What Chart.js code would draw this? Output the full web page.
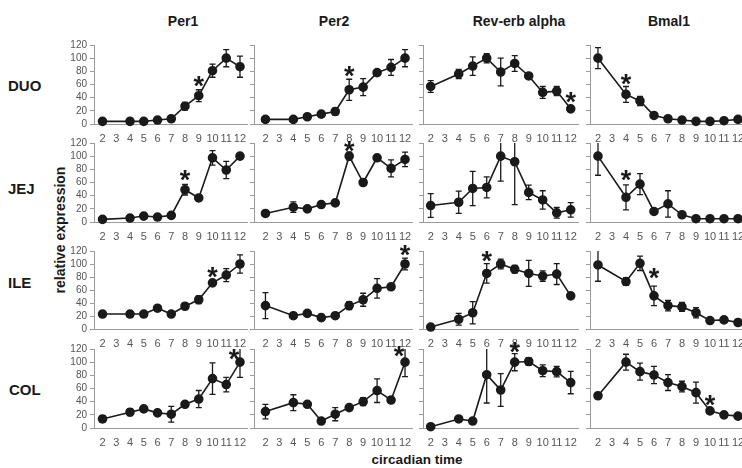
<!DOCTYPE html>
<html lang="en">
<head>
<meta charset="UTF-8">
<title>Clock gene expression along the gut</title>
<script src="https://cdn.jsdelivr.net/npm/chart.js"></script>
<style>
  body { margin: 0; width: 742px; height: 468px; overflow: hidden; background: #fff; position: relative;
         font-family: "Liberation Sans", Arial, sans-serif; }
  canvas { position: absolute; }
  .lbl { position: absolute; font-weight: bold; color: #1a1a1a; white-space: nowrap; line-height: 1.15; }
  .ttl { font-size: 14px; transform: translateX(-50%); }
  .row { font-size: 15px; }
</style>
</head>
<body>
<div class="lbl ttl" style="left:183px; top:13px;">Per1</div>
<div class="lbl ttl" style="left:334px; top:13px;">Per2</div>
<div class="lbl ttl" style="left:519px; top:13px;">Rev-erb alpha</div>
<div class="lbl ttl" style="left:669px; top:13px;">Bmal1</div>
<div class="lbl row" style="left:8px; top:77px;">DUO</div>
<div class="lbl row" style="left:8px; top:180px;">JEJ</div>
<div class="lbl row" style="left:8px; top:274px;">ILE</div>
<div class="lbl row" style="left:9px; top:381px;">COL</div>
<div class="lbl" style="left:60px; top:230px; font-size:14px; transform:translate(-50%,-50%) rotate(-90deg);">relative expression</div>
<div class="lbl" style="left:417px; top:452px; font-size:13.5px; transform:translateX(-50%);">circadian time</div>

<script>
// sampling times (CT) and the tick labels of the time axis
const hours = [2, 4, 5, 6, 7, 8, 9, 10, 11, 12];
const tickHours = [2, 3, 4, 5, 6, 7, 8, 9, 10, 11, 12];

// DUO
const duoPer1 = [4, 4, 4, 6, 8, 27, 43, 81, 100, 87];
const duoPer1Err = [2, 1, 1, 2, 2, 6, 9, 10, 13, 16];
const duoPer2 = [7, 7, 11, 15, 19, 52, 56, 78, 86, 100];
const duoPer2Err = [1, 1, 2, 2, 5, 16, 13, 2, 12, 13];
const duoRev = [57, 76, 88, 100, 79, 92, 73, 48, 50, 23];
const duoRevErr = [9, 7, 14, 7, 21, 12, 2, 9, 7, 2];
const duoBmal = [100, 45, 35, 13, 8, 6, 4, 4, 5, 7];
const duoBmalErr = [16, 12, 7, 2, 1, 1, 1, 1, 1, 1];

// JEJ
const jejPer1 = [4, 6, 9, 7.5, 10, 49, 36.5, 97.5, 79, 100];
const jejPer1Err = [1, 1, 2, 2, 2, 8, 3, 11, 13, 2];
const jejPer2 = [13, 22.5, 20, 26.5, 29, 100, 60, 97.5, 81.5, 95];
const jejPer2Err = [3, 8, 3, 4, 2, 6, 3, 2, 13, 11];
const jejRev = [25, 30, 51, 52.5, 100, 91.5, 45, 33.5, 14, 18.5];
const jejRevErr = [18, 17, 26, 16, 38, 65, 11, 14, 8, 11];
const jejBmal = [100, 37.5, 57.5, 16, 27.5, 11, 5, 5, 5, 5];
const jejBmalErr = [29, 19, 16, 3, 20, 2, 1, 1, 1, 1];

// ILE
const ilePer1 = [23, 23, 23, 32, 23, 35, 45, 71, 83, 100];
const ilePer1Err = [4, 4, 3, 4, 2, 2, 6, 2, 10, 14];
const ilePer2 = [36, 20.5, 24, 17.5, 20.5, 36, 45, 62.5, 65, 100];
const ilePer2Err = [20, 2, 2, 2, 2, 6, 10, 15, 2, 9];
const ileRev = [3, 15, 25, 85.5, 100, 92, 85.5, 81.5, 84.5, 51];
const ileRevErr = [1, 9, 17, 15, 7.5, 6, 20, 8, 16, 1];
const ileBmal = [98.5, 73, 101, 51, 36, 34, 25, 13, 14, 10];
const ileBmalErr = [25, 6, 11, 15, 8, 7, 8, 1, 1, 1];

// COL
const colPer1 = [13.7, 24, 29, 23, 21, 36, 44, 75, 66, 100];
const colPer1Err = [5, 5, 2, 2, 12, 2, 13, 24, 11, 23];
const colPer2 = [25, 38.5, 36, 10.6, 21, 31, 40, 56.7, 42.5, 100];
const colPer2Err = [11, 12, 2, 3, 10, 2, 6, 18, 4, 22];
const colRev = [2, 13.7, 10.6, 81, 57.7, 100, 101, 87, 85.6, 69];
const colRevErr = [1, 2, 2, 43, 25, 13, 6, 9, 8, 17];
const colBmal = [49, 100, 85.6, 80.5, 69, 63, 53.7, 26, 20, 18];
const colBmalErr = [4, 12, 13, 13, 12, 8, 16, 2, 2, 2];

// significance marks: [time, level]
const duoPer1Star = [9, 64], duoPer2Star = [8, 79], duoRevStar = [12, 41], duoBmalStar = [4, 68];
const jejPer1Star = [8, 70], jejPer2Star = [8, 115], jejBmalStar = [4, 70];
const ilePer1Star = [10, 87], ilePer2Star = [12, 121], ileRevStar = [6, 112], ileBmalStar = [6, 85];
const colPer1Star = [11.56, 112], colPer2Star = [11.57, 116], colRevStar = [8, 122], colBmalStar = [10, 42];

// plot area geometry of each column / row (pixels on the page)
const cols = [
  { L: 94, R: 247, min: 1.38, max: 12.51 },
  { L: 254, R: 412, min: 1.18, max: 12.5 },
  { L: 423, R: 578, min: 1.45, max: 12.52 },
  { L: 590, R: 745, min: 1.43, max: 12.5 }
];
const rows = [
  { T: 45, B: 124 }, { T: 143, B: 222 }, { T: 251, B: 329 }, { T: 349, B: 428 }
];

const panels = [
  [duoPer1, duoPer1Err, duoPer1Star], [duoPer2, duoPer2Err, duoPer2Star], [duoRev, duoRevErr, duoRevStar], [duoBmal, duoBmalErr, duoBmalStar],
  [jejPer1, jejPer1Err, jejPer1Star], [jejPer2, jejPer2Err, jejPer2Star], [jejRev, jejRevErr, null], [jejBmal, jejBmalErr, jejBmalStar],
  [ilePer1, ilePer1Err, ilePer1Star], [ilePer2, ilePer2Err, ilePer2Star], [ileRev, ileRevErr, ileRevStar], [ileBmal, ileBmalErr, ileBmalStar],
  [colPer1, colPer1Err, colPer1Star], [colPer2, colPer2Err, colPer2Star], [colRev, colRevErr, colRevStar], [colBmal, colBmalErr, colBmalStar]
];

const INK = '#1a1a1a';
const AXIS = '#9a9a9a';
Chart.defaults.font.family = '"Liberation Sans", Arial, sans-serif';

// draws the error bars and the asterisk through the chart scales
const errorBars = {
  id: 'errorBars',
  afterDatasetsDraw(chart, args, opts) {
    const { ctx, chartArea } = chart;
    const xs = chart.scales.x, ys = chart.scales.y;
    const pts = chart.data.datasets[0].data;
    ctx.save();
    ctx.strokeStyle = INK;
    ctx.lineWidth = 1.3;
    pts.forEach((p, i) => {
      const e = opts.errors[i];
      if (!e || e < 2.5) return;
      const px = xs.getPixelForValue(p.x);
      let top = ys.getPixelForValue(p.y + e);
      const bot = ys.getPixelForValue(Math.max(p.y - e, 0));
      const clipped = top < chartArea.top;
      top = Math.max(top, chartArea.top);
      ctx.beginPath();
      ctx.moveTo(px, top); ctx.lineTo(px, bot);
      if (!clipped) { ctx.moveTo(px - 3, top); ctx.lineTo(px + 3, top); }
      ctx.moveTo(px - 3, bot); ctx.lineTo(px + 3, bot);
      ctx.stroke();
    });
    if (opts.star) {
      ctx.font = 'bold 27px "Liberation Sans", Arial, sans-serif';
      ctx.fillStyle = INK;
      ctx.textAlign = 'center';
      ctx.textBaseline = 'alphabetic';
      const m = ctx.measureText('*');
      const cx = xs.getPixelForValue(opts.star[0]);
      const cy = ys.getPixelForValue(opts.star[1]);
      ctx.fillText('*', cx, cy + (m.actualBoundingBoxAscent - m.actualBoundingBoxDescent) / 2);
    }
    ctx.restore();
  }
};

const padTop = 25, padRight = 6, yw = 40, xh = 18;

panels.forEach((p, k) => {
  const col = cols[k % 4], row = rows[Math.floor(k / 4)];
  const canvas = document.createElement('canvas');
  canvas.width = (col.R - col.L) + yw + padRight;
  canvas.height = (row.B - row.T) + padTop + xh;
  canvas.style.left = (col.L - yw) + 'px';
  canvas.style.top = (row.T - padTop) + 'px';
  document.body.appendChild(canvas);

  new Chart(canvas, {
    type: 'line',
    data: {
      datasets: [{
        data: hours.map((h, i) => ({ x: h, y: p[0][i] })),
        borderColor: INK,
        borderWidth: 1.6,
        pointRadius: 4,
        pointBackgroundColor: INK,
        pointBorderColor: INK,
        tension: 0,
        clip: false
      }]
    },
    options: {
      responsive: false,
      animation: false,
      events: [],
      layout: { padding: { top: padTop, right: padRight, left: 0, bottom: 0 } },
      plugins: {
        legend: { display: false },
        tooltip: { enabled: false },
        errorBars: { errors: p[1], star: p[2] }
      },
      scales: {
        x: {
          type: 'linear',
          min: col.min,
          max: col.max,
          afterBuildTicks: s => { s.ticks = tickHours.map(v => ({ value: v })); },
          afterFit: s => { s.height = xh; },
          grid: { display: false },
          border: { color: AXIS, width: 1 },
          ticks: { font: { size: 11 }, color: '#555', padding: 0, maxRotation: 0, autoSkip: false }
        },
        y: {
          min: 0,
          max: 120,
          afterFit: s => { s.width = yw; },
          grid: { drawOnChartArea: false, drawTicks: true, tickLength: 4, color: AXIS },
          border: { color: AXIS, width: 1 },
          ticks: { display: k % 4 === 0, stepSize: 20, autoSkip: false, font: { size: 10 }, color: '#555', padding: 3 }
        }
      }
    },
    plugins: [errorBars]
  });
});
</script>
</body>
</html>
